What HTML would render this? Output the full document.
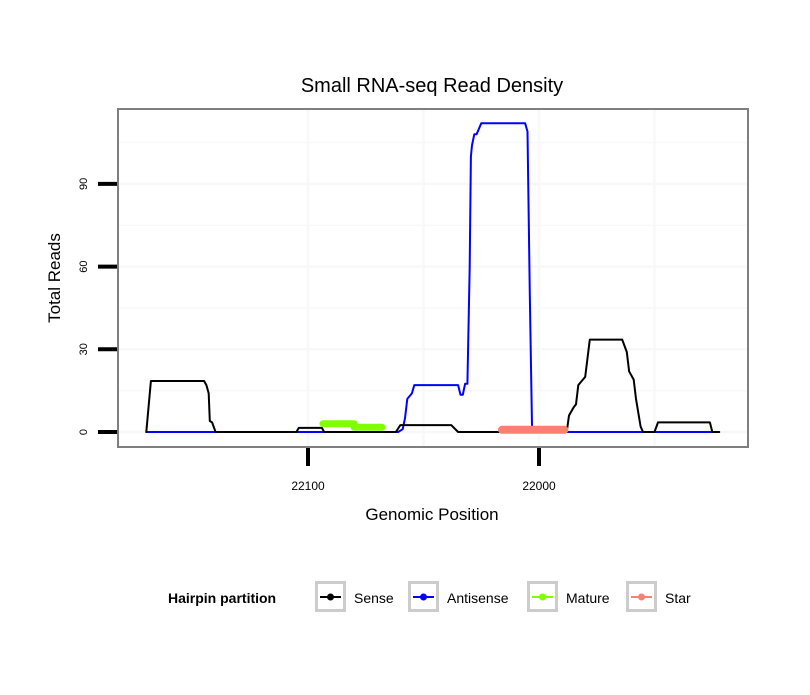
<!DOCTYPE html>
<html><head><meta charset="utf-8"><style>
body{margin:0;background:#fff;font-family:"Liberation Sans",sans-serif}
</style></head><body>
<svg id="c" width="810" height="690" xmlns="http://www.w3.org/2000/svg" font-family="Liberation Sans, sans-serif">
<rect width="810" height="690" fill="#fff"/>
<text x="432" y="92" font-size="20" text-anchor="middle">Small RNA-seq Read Density</text>
<g id="grid"></g>
<g id="series"></g>
<rect x="118" y="109" width="630" height="338" fill="none" stroke="#7f7f7f" stroke-width="2"/>
<g id="axes"></g>
<text x="432" y="520" font-size="17" text-anchor="middle">Genomic Position</text>
<text transform="translate(60,278) rotate(-90)" font-size="17" text-anchor="middle">Total Reads</text>
<g>
<text x="168" y="603" font-size="14" font-weight="bold">Hairpin partition</text>
<g id="legend"></g>
</g>
</svg>
<script>
const senseX=[22170,22168,22145,22144,22143,22142.5,22141.5,22140,22105,22104,22094,22093,22066,22062,22060,22038,22035,21988,21987,21985,21984,21983,21981,21980,21978,21964,21962,21961,21959,21958,21956,21955,21950,21948.5,21926,21925,21922];
const senseY=[0,18.5,18.5,17,14,4,3.5,0,0,1.5,1.5,0,0,0,2.5,2.5,0,0,6,9,10,17,19,20,33.5,33.5,29,22,19,12,2,0,0,3.5,3.5,0,0];
const antiX=[22170,22061,22059,22058,22057,22055,22054,22035,22034,22033,22032,22031,22030,22029.5,22029,22028,22027,22025,22006,22005,22004,22003,21922];
const antiY=[0,0,1,5,12,14,17,17,13.5,13.5,17.5,17.5,60,100,104,108,108,112,112,109,50,0,0];
const matureX=[22093.5,22080,22080,22068];
const matureY=[3,3,1.7,1.7];
const starX=[22016,21989];
const starY=[0.8,0.8];
const yTicks=[0,30,60,90];
const xTicks=[22100,22000];
const xGrid=[22050,21950];
const yGrid=[15,45,75,105];
const legendLabels=["Sense","Antisense","Mature","Star"];
const legendColors=["#000","#0000ff","#7fff00","#fa8072"];

const sx=v=>308+(22100-v)*2.31;
const sy=v=>432-v*2.757;
const NS="http://www.w3.org/2000/svg";
function mk(tag,attrs,parent){const e=document.createElementNS(NS,tag);for(const k in attrs)e.setAttribute(k,attrs[k]);parent.appendChild(e);return e;}
const grid=document.getElementById('grid'),ser=document.getElementById('series'),ax=document.getElementById('axes'),lg=document.getElementById('legend');
yGrid.concat(yTicks).forEach(v=>{const l=mk('line',{x1:119,x2:747,y1:sy(v),y2:sy(v),stroke:'#f8f8f8','stroke-width':yTicks.includes(v)?2.5:1.5},grid);

});
xGrid.concat(xTicks).forEach(v=>{const l=mk('line',{x1:sx(v),x2:sx(v),y1:110,y2:446,stroke:'#f8f8f8','stroke-width':2.5},grid);

});
function path(xs,ys,col,w,name){const d=xs.map((x,i)=>(i?'L':'M')+sx(x).toFixed(1)+','+sy(ys[i]).toFixed(1)).join('');
const p=mk('path',{d:d,fill:'none',stroke:col,'stroke-width':w,'stroke-linejoin':'round','stroke-linecap':'round'},ser);

}
path(antiX,antiY,'#0000ff',2,'antisense-line');
path(senseX,senseY,'#000',2,'sense-line');
path(matureX,matureY,'#7fff00',7,'mature-line');
path(starX,starY,'#fa8072',8,'star-line');
yTicks.forEach(v=>{const t=mk('line',{x1:98,x2:117,y1:sy(v),y2:sy(v),stroke:'#000','stroke-width':4},ax);


const tx=mk('text',{transform:`translate(87,${sy(v)}) rotate(-90)`,'font-size':11,'text-anchor':'middle'},ax);tx.textContent=v;

});
xTicks.forEach(v=>{const t=mk('line',{x1:sx(v),x2:sx(v),y1:448,y2:466,stroke:'#000','stroke-width':4},ax);


const tx=mk('text',{x:sx(v),y:490,'font-size':12,'text-anchor':'middle'},ax);tx.textContent=v;

});
const boxX=[315,408,527,626];
legendLabels.forEach((lab,i)=>{const g=mk('g',{},lg);


const bx=boxX[i];
mk('rect',{x:bx+1.5,y:582.5,width:28,height:28,fill:'#fff',stroke:'#cccccc','stroke-width':3},g);
mk('line',{x1:bx+5,x2:bx+26,y1:597,y2:597,stroke:legendColors[i],'stroke-width':2},g);
mk('circle',{cx:bx+15.5,cy:597,r:3.5,fill:legendColors[i]},g);
const t=mk('text',{x:bx+39,y:603,'font-size':14},g);t.textContent=lab;});
</script>
</body></html>
